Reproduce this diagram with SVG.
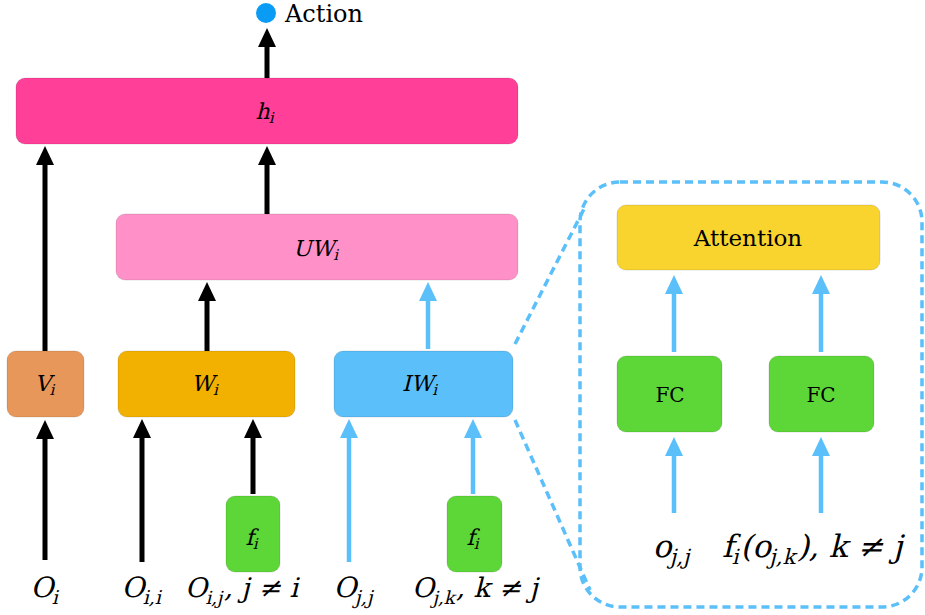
<svg xmlns="http://www.w3.org/2000/svg" width="925" height="615" viewBox="0 0 925 615">
<style>
.box{stroke:#000;stroke-opacity:0.12;stroke-width:1}
.m{font-family:'DejaVu Serif',serif;font-style:normal;fill:#000}
.r{font-family:'DejaVu Serif',serif;fill:#000}
.bk{stroke:#000;stroke-width:5;fill:none}
.bl{stroke:#5BBFFA;stroke-width:4.5;fill:none}
</style>
<defs>
<marker id="ab" markerUnits="userSpaceOnUse" markerWidth="20" markerHeight="20" refX="0" refY="9" orient="auto" viewBox="0 0 20 18">
<path d="M0,0 L19,9 L0,18 z" fill="#000"/>
</marker>
<marker id="au" markerUnits="userSpaceOnUse" markerWidth="20" markerHeight="20" refX="0" refY="9" orient="auto" viewBox="0 0 20 18">
<path d="M0,0 L19,9 L0,18 z" fill="#5BBFFA"/>
</marker>
</defs>
<rect width="925" height="615" fill="#fff"/>

<g id="action">
<circle cx="266" cy="13" r="10" fill="#0A9BF5"/>
<text class="r" x="285" y="22" font-size="24">Action</text>
</g>
<g id="h">
<rect class="box" x="16" y="78" width="502" height="66" rx="9" fill="#FF3F98"/>
<text class="m" transform="translate(265,119) skewX(-14)" font-size="22" text-anchor="middle">h<tspan font-size="15" dy="4">i</tspan></text>
</g>
<g id="uw">
<rect class="box" x="116" y="214" width="402" height="66" rx="9" fill="#FF91C8"/>
<text class="m" transform="translate(316,256) skewX(-14)" font-size="22" text-anchor="middle">UW<tspan font-size="15" dy="4">i</tspan></text>
</g>
<g id="v">
<rect class="box" x="7" y="351" width="77" height="66" rx="9" fill="#E8975A"/>
<text class="m" transform="translate(45,391) skewX(-14)" font-size="22" text-anchor="middle">V<tspan font-size="15" dy="4">i</tspan></text>
</g>
<g id="w">
<rect class="box" x="118" y="351" width="177" height="66" rx="9" fill="#F2B000"/>
<text class="m" transform="translate(205,391) skewX(-14)" font-size="22" text-anchor="middle">W<tspan font-size="15" dy="4">i</tspan></text>
</g>
<g id="iw">
<rect class="box" x="334" y="351" width="179" height="66" rx="9" fill="#5BBFFA"/>
<text class="m" transform="translate(420,391) skewX(-14)" font-size="22" text-anchor="middle">IW<tspan font-size="15" dy="4">i</tspan></text>
</g>
<g id="f1">
<rect class="box" x="226" y="496" width="54" height="76" rx="9" fill="#5DD638"/>
<text class="m" transform="translate(252,545) skewX(-14)" font-size="22" text-anchor="middle">f<tspan font-size="15" dy="4">i</tspan></text>
</g>
<g id="f2">
<rect class="box" x="447" y="496" width="55" height="76" rx="9" fill="#5DD638"/>
<text class="m" transform="translate(473,545) skewX(-14)" font-size="22" text-anchor="middle">f<tspan font-size="15" dy="4">i</tspan></text>
</g>
<g id="attention">
<rect class="box" x="617" y="205" width="263" height="65" rx="9" fill="#FAD42E"/>
<text class="r" x="748" y="246" font-size="23" text-anchor="middle">Attention</text>
</g>
<g id="fc1">
<rect class="box" x="617" y="356" width="105" height="76" rx="9" fill="#5DD638"/>
<text class="r" x="670" y="402" font-size="20" text-anchor="middle">FC</text>
</g>
<g id="fc2">
<rect class="box" x="769" y="356" width="105" height="76" rx="9" fill="#5DD638"/>
<text class="r" x="821" y="402" font-size="20" text-anchor="middle">FC</text>
</g>

<g id="labels">
<text class="m" transform="translate(45,597) skewX(-14)" font-size="28" text-anchor="middle">O<tspan font-size="19" dy="7">i</tspan></text>
<text class="m" transform="translate(142,597) skewX(-14)" font-size="28" text-anchor="middle">O<tspan font-size="19" dy="7">i,i</tspan></text>
<text class="m" transform="translate(185,597) skewX(-14)" font-size="27">O<tspan font-size="18" dy="7">i,j</tspan><tspan dy="-7">, j ≠ i</tspan></text>
<text class="m" transform="translate(354,597) skewX(-14)" font-size="28" text-anchor="middle">O<tspan font-size="19" dy="7">j,j</tspan></text>
<text class="m" transform="translate(412,597) skewX(-14)" font-size="27">O<tspan font-size="18" dy="7">j,k</tspan><tspan dy="-7">, k ≠ j</tspan></text>
<text class="m" transform="translate(672,557) skewX(-14)" font-size="31" text-anchor="middle">o<tspan font-size="21" dy="7">j,j</tspan></text>
<text class="m" transform="translate(722,557) skewX(-14)" font-size="31">f<tspan font-size="21" dy="7">i</tspan><tspan dy="-7">(o</tspan><tspan font-size="21" dy="7">j,k</tspan><tspan dy="-7">), k ≠ j</tspan></text>
</g>

<g id="zoom-frame" fill="none" stroke="#5BBFFA" stroke-width="3.5" stroke-dasharray="8,5">
<rect x="580" y="182" width="342" height="425" rx="40"/>
<line x1="515" y1="344" x2="585" y2="207"/>
<line x1="515" y1="420" x2="590" y2="590"/>
</g>

<g id="connectors">
<line class="bk" x1="267" y1="78" x2="267" y2="47" marker-end="url(#ab)"/>
<line class="bk" x1="267" y1="214" x2="267" y2="165" marker-end="url(#ab)"/>
<line class="bk" x1="45" y1="351" x2="45" y2="165" marker-end="url(#ab)"/>
<line class="bk" x1="207" y1="351" x2="207" y2="301" marker-end="url(#ab)"/>
<line class="bk" x1="45" y1="560" x2="45" y2="439" marker-end="url(#ab)"/>
<line class="bk" x1="142" y1="562" x2="142" y2="438" marker-end="url(#ab)"/>
<line class="bk" x1="253" y1="494" x2="253" y2="438" marker-end="url(#ab)"/>
<line class="bl" x1="428" y1="349" x2="428" y2="301" marker-end="url(#au)"/>
<line class="bl" x1="349" y1="562" x2="349" y2="438" marker-end="url(#au)"/>
<line class="bl" x1="473" y1="494" x2="473" y2="438" marker-end="url(#au)"/>
<line class="bl" x1="674" y1="352" x2="674" y2="294" marker-end="url(#au)"/>
<line class="bl" x1="821" y1="352" x2="821" y2="294" marker-end="url(#au)"/>
<line class="bl" x1="674" y1="513" x2="674" y2="456" marker-end="url(#au)"/>
<line class="bl" x1="821" y1="513" x2="821" y2="456" marker-end="url(#au)"/>
</g>
</svg>
